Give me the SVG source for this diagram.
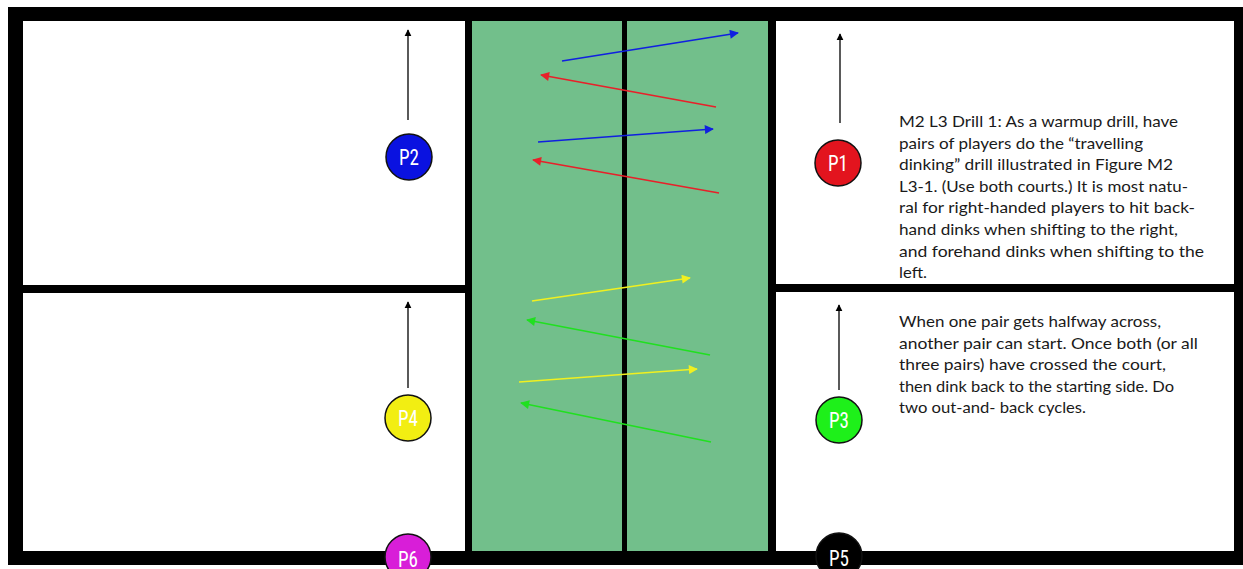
<svg xmlns="http://www.w3.org/2000/svg" width="1243" height="569" viewBox="0 0 1243 569">
<style>
.court{fill:#ffffff}
.kitchen{fill:#72bf8b}
.pl{stroke:#111;stroke-width:1.5}
.lbl{font-family:"Liberation Sans Narrow","Roboto Condensed",Roboto,sans-serif;font-size:22px;fill:#ffffff;text-anchor:middle}
.txt{font-family:Lato,"Open Sans",sans-serif;font-size:16px;fill:#1a1a1a}
.up{stroke:#000;stroke-width:1.3;fill:none;marker-end:url(#hk)}
.shot{stroke-width:1.7;fill:none}
</style>
<defs>
<marker id="hk" viewBox="0 0 10 10" refX="9" refY="5" markerWidth="7" markerHeight="10" markerUnits="userSpaceOnUse" orient="auto"><path d="M0,0 L10,5 L0,10 z" fill="#000"/></marker>
<marker id="hb" viewBox="0 0 10 10" refX="9" refY="5" markerWidth="14" markerHeight="9" markerUnits="userSpaceOnUse" orient="auto"><path d="M0,0 L10,5 L0,10 z" fill="#1020e0"/></marker>
<marker id="hr" viewBox="0 0 10 10" refX="9" refY="5" markerWidth="14" markerHeight="9" markerUnits="userSpaceOnUse" orient="auto"><path d="M0,0 L10,5 L0,10 z" fill="#e8202a"/></marker>
<marker id="hy" viewBox="0 0 10 10" refX="9" refY="5" markerWidth="14" markerHeight="9" markerUnits="userSpaceOnUse" orient="auto"><path d="M0,0 L10,5 L0,10 z" fill="#f0f020"/></marker>
<marker id="hg" viewBox="0 0 10 10" refX="9" refY="5" markerWidth="14" markerHeight="9" markerUnits="userSpaceOnUse" orient="auto"><path d="M0,0 L10,5 L0,10 z" fill="#20e020"/></marker>
</defs>
<rect width="1243" height="569" fill="#ffffff"/>
<g id="court-frame">
<rect x="8" y="7" width="1245" height="558" fill="#000"/>
<rect class="court" x="23" y="21" width="442" height="264"/>
<rect class="court" x="23" y="293" width="442" height="258"/>
<rect class="kitchen" x="472" y="21" width="296" height="530"/>
<rect x="622" y="21" width="5" height="530" fill="#000"/>
<rect class="court" x="776" y="21" width="458" height="263"/>
<rect class="court" x="776" y="292" width="458" height="259"/>
</g>
<g id="connectors">
<line class="up" x1="408" y1="120" x2="408" y2="30"/>
<line class="up" x1="840" y1="123" x2="840" y2="34"/>
<line class="up" x1="408" y1="388" x2="408" y2="302"/>
<line class="up" x1="839" y1="390" x2="839" y2="305"/>
<line class="shot" stroke="#1020e0" x1="562" y1="61" x2="738" y2="33" marker-end="url(#hb)"/>
<line class="shot" stroke="#e8202a" x1="716" y1="107" x2="541" y2="75" marker-end="url(#hr)"/>
<line class="shot" stroke="#1020e0" x1="538" y1="142" x2="713" y2="129" marker-end="url(#hb)"/>
<line class="shot" stroke="#e8202a" x1="719" y1="193" x2="533" y2="160" marker-end="url(#hr)"/>
<line class="shot" stroke="#f0f020" x1="532" y1="301" x2="690" y2="278" marker-end="url(#hy)"/>
<line class="shot" stroke="#20e020" x1="710" y1="355" x2="527" y2="320" marker-end="url(#hg)"/>
<line class="shot" stroke="#f0f020" x1="519" y1="382" x2="697" y2="369" marker-end="url(#hy)"/>
<line class="shot" stroke="#20e020" x1="711" y1="442" x2="521" y2="403" marker-end="url(#hg)"/>
</g>
<g id="P2"><circle class="pl" cx="409" cy="157" r="23" fill="#0a12e0"/><text class="lbl" x="409" y="165" textLength="20" lengthAdjust="spacingAndGlyphs">P2</text></g>
<g id="P1"><circle class="pl" cx="838" cy="163" r="23" fill="#e3141e"/><text class="lbl" x="838" y="171" textLength="20" lengthAdjust="spacingAndGlyphs">P1</text></g>
<g id="P4"><circle class="pl" cx="408" cy="418" r="23" fill="#f2ee12"/><text class="lbl" x="408" y="426" textLength="20" lengthAdjust="spacingAndGlyphs">P4</text></g>
<g id="P3"><circle class="pl" cx="839" cy="420" r="23" fill="#1ef01a"/><text class="lbl" x="839" y="428" textLength="20" lengthAdjust="spacingAndGlyphs">P3</text></g>
<g id="P6"><circle class="pl" cx="408" cy="557" r="23" fill="#d81ed8"/><text class="lbl" x="408" y="567" textLength="20" lengthAdjust="spacingAndGlyphs">P6</text></g>
<g id="P5"><circle class="pl" cx="839" cy="556" r="23" fill="#000"/><text class="lbl" x="839" y="566" textLength="20" lengthAdjust="spacingAndGlyphs">P5</text></g>
<g id="text-drill">
<text class="txt" x="899" y="127" textLength="279" lengthAdjust="spacingAndGlyphs">M2 L3 Drill 1: As a warmup drill, have</text>
<text class="txt" x="899" y="148.6" textLength="244" lengthAdjust="spacingAndGlyphs">pairs of players do the “travelling</text>
<text class="txt" x="899" y="170.2" textLength="274" lengthAdjust="spacingAndGlyphs">dinking” drill illustrated in Figure M2</text>
<text class="txt" x="899" y="191.8" textLength="289" lengthAdjust="spacingAndGlyphs">L3-1. (Use both courts.) It is most natu-</text>
<text class="txt" x="899" y="213.4" textLength="296" lengthAdjust="spacingAndGlyphs">ral for right-handed players to hit back-</text>
<text class="txt" x="899" y="235" textLength="279" lengthAdjust="spacingAndGlyphs">hand dinks when shifting to the right,</text>
<text class="txt" x="899" y="256.6" textLength="305" lengthAdjust="spacingAndGlyphs">and forehand dinks when shifting to the</text>
<text class="txt" x="899" y="278.2" textLength="28" lengthAdjust="spacingAndGlyphs">left.</text>
</g>
<g id="text-cycles">
<text class="txt" x="899" y="327" textLength="262" lengthAdjust="spacingAndGlyphs">When one pair gets halfway across,</text>
<text class="txt" x="899" y="348.5" textLength="299" lengthAdjust="spacingAndGlyphs">another pair can start. Once both (or all</text>
<text class="txt" x="899" y="370" textLength="267" lengthAdjust="spacingAndGlyphs">three pairs) have crossed the court,</text>
<text class="txt" x="899" y="391.5" textLength="275" lengthAdjust="spacingAndGlyphs">then dink back to the starting side. Do</text>
<text class="txt" x="899" y="413" textLength="187" lengthAdjust="spacingAndGlyphs">two out-and- back cycles.</text>
</g>
</svg>
